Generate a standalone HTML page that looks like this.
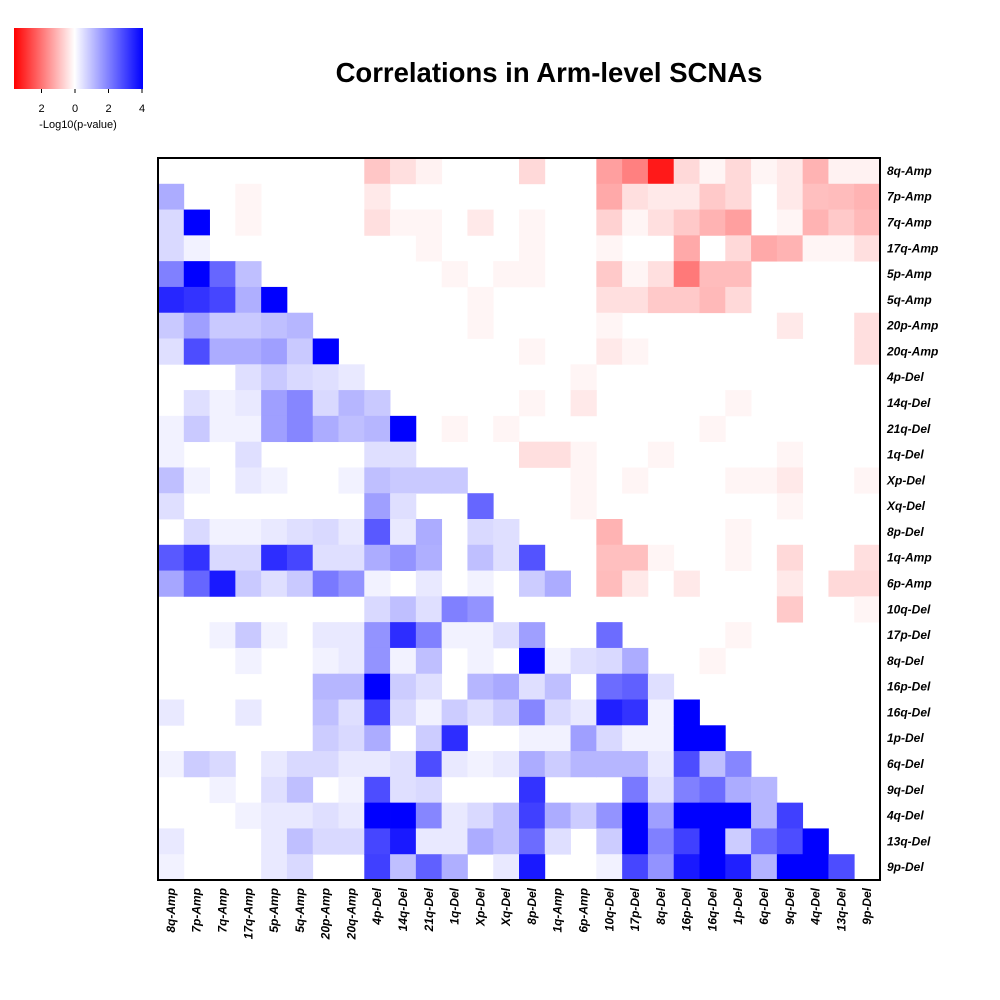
<!DOCTYPE html>
<html><head><meta charset="utf-8"><style>
body{margin:0;background:#fff;}
svg{display:block;font-family:"Liberation Sans",sans-serif;}
</style></head><body>
<svg id="chart" width="1000" height="1000" viewBox="0 0 1000 1000" xmlns="http://www.w3.org/2000/svg">
<defs><linearGradient id="lg" x1="0" x2="1" y1="0" y2="0"><stop offset="0" stop-color="#ff0000"/><stop offset="0.47" stop-color="#ffffff"/><stop offset="1" stop-color="#0000ff"/></linearGradient></defs>
<text x="549" y="82" text-anchor="middle" font-size="27.5" font-weight="bold">Correlations in Arm-level SCNAs</text>
<g>
<rect x="14" y="28" width="129" height="61" fill="url(#lg)"/>
<g id="legendTicks"></g>
<text x="78" y="128" text-anchor="middle" font-size="11">-Log10(p-value)</text>
</g>
<g id="cells"></g>
<rect x="158" y="158" width="722" height="722" fill="none" stroke="#000" stroke-width="2"/>
<g id="ylabels"></g>
<g id="xlabels"></g>
</svg>
<script>
const labels=["8q-Amp","7p-Amp","7q-Amp","17q-Amp","5p-Amp","5q-Amp","20p-Amp","20q-Amp","4p-Del","14q-Del","21q-Del","1q-Del","Xp-Del","Xq-Del","8p-Del","1q-Amp","6p-Amp","10q-Del","17p-Del","8q-Del","16p-Del","16q-Del","1p-Del","6q-Del","9q-Del","4q-Del","13q-Del","9p-Del"];
const legendTickValues=[-2,0,2,4];
const legendTickLabels=["2","0","2","4"];
const values=[
[0,0,0,0,0,0,0,0,-0.9,-0.5,-0.2,0,0,0,-0.6,0,0,-1.5,-2,-3.6,-0.6,-0.15,-0.6,-0.15,-0.35,-1.2,-0.2,-0.2],
[1.3,0,0,-0.15,0,0,0,0,-0.35,0,0,0,0,0,0,0,0,-1.35,-0.5,-0.35,-0.35,-0.85,-0.6,0,-0.35,-1.0,-1.05,-1.2],
[0.6,4,0,-0.15,0,0,0,0,-0.5,-0.15,-0.15,0,-0.35,0,-0.15,0,0,-0.7,-0.15,-0.5,-0.85,-1.2,-1.5,0,-0.15,-1.2,-0.85,-1.1],
[0.6,0.2,0,0,0,0,0,0,0,0,-0.15,0,0,0,-0.15,0,0,-0.15,0,0,-1.35,0,-0.6,-1.35,-1.2,-0.15,-0.15,-0.5],
[2,4,2.4,1.0,0,0,0,0,0,0,0,-0.15,0,-0.15,-0.15,0,0,-0.85,-0.15,-0.5,-2.1,-1.05,-1.05,0,0,0,0,0],
[3.4,3.2,2.9,1.25,4,0,0,0,0,0,0,0,-0.15,0,0,0,0,-0.5,-0.5,-0.85,-0.85,-1.1,-0.6,0,0,0,0,0],
[0.85,1.5,0.85,0.85,1.0,1.15,0,0,0,0,0,0,-0.15,0,0,0,0,-0.15,0,0,0,0,0,0,-0.35,0,0,-0.5],
[0.5,2.8,1.3,1.3,1.5,0.85,4,0,0,0,0,0,0,0,-0.15,0,0,-0.35,-0.15,0,0,0,0,0,0,0,0,-0.5],
[0,0,0,0.5,0.85,0.6,0.5,0.35,0,0,0,0,0,0,0,0,-0.15,0,0,0,0,0,0,0,0,0,0,0],
[0,0.5,0.2,0.35,1.5,1.9,0.6,1.15,0.85,0,0,0,0,0,-0.15,0,-0.35,0,0,0,0,0,-0.15,0,0,0,0,0],
[0.2,0.85,0.2,0.2,1.5,1.9,1.3,1.0,1.15,4,0,-0.15,0,-0.15,0,0,0,0,0,0,0,-0.15,0,0,0,0,0,0],
[0.2,0,0,0.5,0,0,0,0,0.5,0.5,0,0,0,0,-0.5,-0.5,-0.15,0,0,-0.15,0,0,0,0,-0.15,0,0,0],
[1.0,0.2,0,0.35,0.2,0,0,0.2,1.0,0.85,0.85,0.85,0,0,0,0,-0.15,0,-0.15,0,0,0,-0.15,-0.15,-0.35,0,0,-0.15],
[0.5,0,0,0,0,0,0,0,1.5,0.5,0,0,2.4,0,0,0,-0.15,0,0,0,0,0,0,0,-0.15,0,0,0],
[0,0.6,0.2,0.2,0.35,0.5,0.6,0.35,2.6,0.35,1.3,0,0.6,0.5,0,0,0,-1.2,0,0,0,0,-0.15,0,0,0,0,0],
[2.6,3.2,0.6,0.6,3.3,2.9,0.5,0.5,1.3,1.7,1.25,0,1.0,0.5,2.7,0,0,-1.0,-1.0,-0.15,0,0,-0.15,0,-0.6,0,0,-0.5],
[1.4,2.4,3.6,0.85,0.5,0.85,2.1,1.7,0.2,0,0.35,0,0.2,0,0.8,1.3,0,-1.05,-0.35,0,-0.35,0,0,0,-0.35,0,-0.6,-0.6],
[0,0,0,0,0,0,0,0,0.6,1.0,0.5,2.0,1.7,0,0,0,0,0,0,0,0,0,0,0,-0.85,0,0,-0.15],
[0,0,0.2,0.85,0.2,0,0.35,0.35,1.7,3.3,2.0,0.2,0.2,0.5,1.5,0,0,2.3,0,0,0,0,-0.15,0,0,0,0,0],
[0,0,0,0.2,0,0,0.2,0.35,1.7,0.2,1.0,0,0.2,0,4,0.2,0.5,0.6,1.3,0,0,-0.15,0,0,0,0,0,0],
[0,0,0,0,0,0,1.15,1.15,4,0.8,0.5,0,1.15,1.35,0.5,1.0,0,2.3,2.5,0.5,0,0,0,0,0,0,0,0],
[0.35,0,0,0.35,0,0,1.0,0.5,3.0,0.6,0.2,0.8,0.5,0.8,1.9,0.6,0.35,3.5,3.2,0.2,4,0,0,0,0,0,0,0],
[0,0,0,0,0,0,0.8,0.6,1.3,0,0.8,3.3,0,0,0.2,0.2,1.5,0.6,0.2,0.2,4,4,0,0,0,0,0,0],
[0.2,0.8,0.6,0,0.35,0.6,0.6,0.35,0.35,0.5,2.8,0.35,0.2,0.35,1.3,0.8,1.15,1.15,1.15,0.35,2.8,1.0,1.9,0,0,0,0,0],
[0,0,0.2,0,0.5,1.0,0,0.2,2.8,0.5,0.6,0,0,0,3.2,0,0,0,2.1,0.5,2.0,2.3,1.3,1.15,0,0,0,0],
[0,0,0,0.2,0.35,0.35,0.5,0.35,4,4,1.9,0.35,0.6,1.0,3.0,1.3,0.8,1.7,4,1.5,4,4,4,1.15,3.0,0,0,0],
[0.35,0,0,0,0.35,1.0,0.6,0.6,2.9,3.6,0.35,0.35,1.3,1.0,2.3,0.5,0,0.8,4,2.0,3.0,4,0.8,2.3,2.8,4,0,0],
[0.2,0,0,0,0.35,0.6,0,0,3.0,1.0,2.5,1.25,0,0.35,3.6,0,0,0.2,2.9,1.7,3.6,4,3.5,1.2,4,4,2.8,0]
];
const NS="http://www.w3.org/2000/svg";
const x0=158,y0=158,size=722,n=labels.length,cw=size/n;
const vmax=4;
function colorFor(v){
  const t=Math.min(Math.abs(v)/vmax,1);
  const c=Math.round(255*(1-t));
  return v>=0?`rgb(${c},${c},255)`:`rgb(255,${c},${c})`;
}
function xPos(i){return x0+i*cw;}
function yPos(i){return y0+i*cw;}
const cells=document.getElementById('cells');
values.forEach((row,r)=>row.forEach((v,c)=>{
  if(v===0)return;
  const rc=document.createElementNS(NS,'rect');
  
  
  rc.setAttribute('x',xPos(c));rc.setAttribute('y',yPos(r));
  rc.setAttribute('width',cw+0.4);rc.setAttribute('height',cw+0.4);
  rc.setAttribute('fill',colorFor(v));
  cells.appendChild(rc);
}));
const yl=document.getElementById('ylabels'),xl=document.getElementById('xlabels');
labels.forEach((l,i)=>{
  const t=document.createElementNS(NS,'text');
  
  
  t.setAttribute('x',887);t.setAttribute('y',yPos(i)+cw/2+4);
  t.setAttribute('font-size','12');t.setAttribute('font-weight','bold');t.setAttribute('font-style','italic');
  t.textContent=l;yl.appendChild(t);
  const u=document.createElementNS(NS,'text');
  
  
  const cx=xPos(i)+cw/2+4;
  u.setAttribute('transform',`translate(${cx},888) rotate(-90)`);
  u.setAttribute('text-anchor','end');
  u.setAttribute('font-size','12');u.setAttribute('font-weight','bold');u.setAttribute('font-style','italic');
  u.textContent=l;xl.appendChild(u);
});
const lt=document.getElementById('legendTicks');
function legX(v){return 75+v*16.75;}
legendTickValues.forEach((v,i)=>{
  const ln=document.createElementNS(NS,'line');
  
  
  const x=Math.min(legX(v),142.5);
  ln.setAttribute('x1',x);ln.setAttribute('x2',x);ln.setAttribute('y1',89);ln.setAttribute('y2',93);
  ln.setAttribute('stroke','#000');lt.appendChild(ln);
  const t=document.createElementNS(NS,'text');
  
  
  t.setAttribute('x',x);t.setAttribute('y',112);t.setAttribute('text-anchor','middle');t.setAttribute('font-size','11');
  t.textContent=legendTickLabels[i];lt.appendChild(t);
});
</script>
</body></html>
